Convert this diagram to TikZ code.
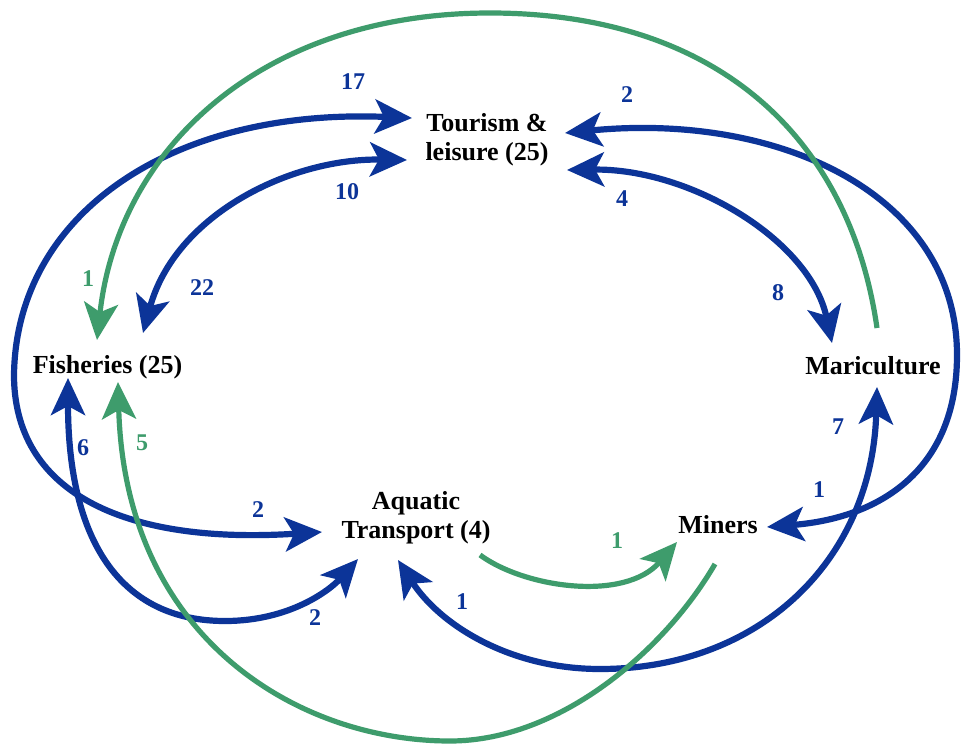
\documentclass[tikz,border=0pt]{standalone}
\usepackage{fontspec}
\setmainfont{Liberation Serif}
\usetikzlibrary{arrows.meta}
\definecolor{cblue}{RGB}{12,52,152}
\definecolor{cgreen}{RGB}{62,156,108}
\begin{document}
\begin{tikzpicture}[x=1pt,y=-1pt,
  >={Stealth[length=37pt,width=34pt,inset=9pt]},
  ent/.style={inner sep=0pt, anchor=base, font=\fontsize{26}{29}\selectfont\bfseries, text=black},
  num/.style={inner sep=0pt, font=\fontsize{24}{28}\selectfont\bfseries},
  bl/.style={draw=cblue, line width=6.2pt},
  gr/.style={draw=cgreen, line width=5.2pt},
  bnum/.style={num, text=cblue},
  gnum/.style={num, text=cgreen}]
\useasboundingbox[fill=white] (0,0) rectangle (963,744);

% entities
\node[ent] (tour) at (487,160) {\begin{tabular}[b]{@{}c@{}}Tourism \&\\leisure (25)\end{tabular}};
\node[ent] (fish) at (107.5,373) {Fisheries (25)};
\node[ent] (mari) at (873,374) {Mariculture};
\node[ent] (aqua) at (416,538) {\begin{tabular}[b]{@{}c@{}}Aquatic\\Transport (4)\end{tabular}};
\node[ent] (mine) at (718,533) {Miners};

% blue connectors
\draw[bl,<->] ([shift={(-75,-42)}]tour.base) .. controls (170,108) and (16,215) .. (14,375)
      .. controls (14,490) and (120,545) .. ([shift={(-94,-6)}]aqua.base);
\draw[bl,<->] ([shift={(78,-27)}]tour.base) .. controls (780,112) and (957,195) .. (957,355)
      .. controls (957,470) and (880,518) .. ([shift={(49,-6)}]mine.base);
\draw[bl,<->] ([shift={(-80,0)}]tour.base) .. controls (290,158) and (175,215) .. ([shift={(35.5,-40)}]fish.base);
\draw[bl,<->] ([shift={(80,10)}]tour.base) .. controls (690,168) and (810,240) .. ([shift={(-41,-31)}]mari.base);
\draw[bl,<->] ([shift={(-39.5,5)}]fish.base) .. controls (68,540) and (120,621) .. (225,621)
      .. controls (290,621) and (330,590) .. ([shift={(-58,21)}]aqua.base);
\draw[bl,<->] ([shift={(-18,22)}]aqua.base) .. controls (440,625) and (510,669) .. (600,669)
      .. controls (760,669) and (872,560) .. ([shift={(4,13)}]mari.base);

% green connectors
\draw[gr,->] ([shift={(4,-46)}]mari.base) .. controls (850,140) and (720,13) .. (490,13)
      .. controls (260,13) and (118,150) .. ([shift={(-10.5,-33)}]fish.base);
\draw[gr,->] ([shift={(-3,31)}]mine.base) .. controls (665,650) and (560,741) .. (450,741)
      .. controls (300,741) and (125,640) .. ([shift={(10.5,9)}]fish.base);
\draw[gr,->] ([shift={(64,17)}]aqua.base) .. controls (525,588) and (625,602) .. ([shift={(-41,9)}]mine.base);

% labels
\node[bnum] (l17) at (353,82) {17};
\node[bnum] (l10) at (347,192) {10};
\node[bnum] (l2a) at (627,95) {2};
\node[bnum] (l4) at (622,199) {4};
\node[bnum] (l8) at (778,293) {8};
\node[bnum] (l22) at (202,288) {22};
\node[bnum] (l6) at (83,448) {6};
\node[bnum] (l2b) at (258,510) {2};
\node[bnum] (l2c) at (315,618) {2};
\node[bnum] (l1a) at (462,602) {1};
\node[bnum] (l1b) at (819,490) {1};
\node[bnum] (l7) at (838,427) {7};
\node[gnum] (g1a) at (88,279) {1};
\node[gnum] (g5) at (142,443) {5};
\node[gnum] (g1b) at (617,541) {1};
\end{tikzpicture}
\end{document}
